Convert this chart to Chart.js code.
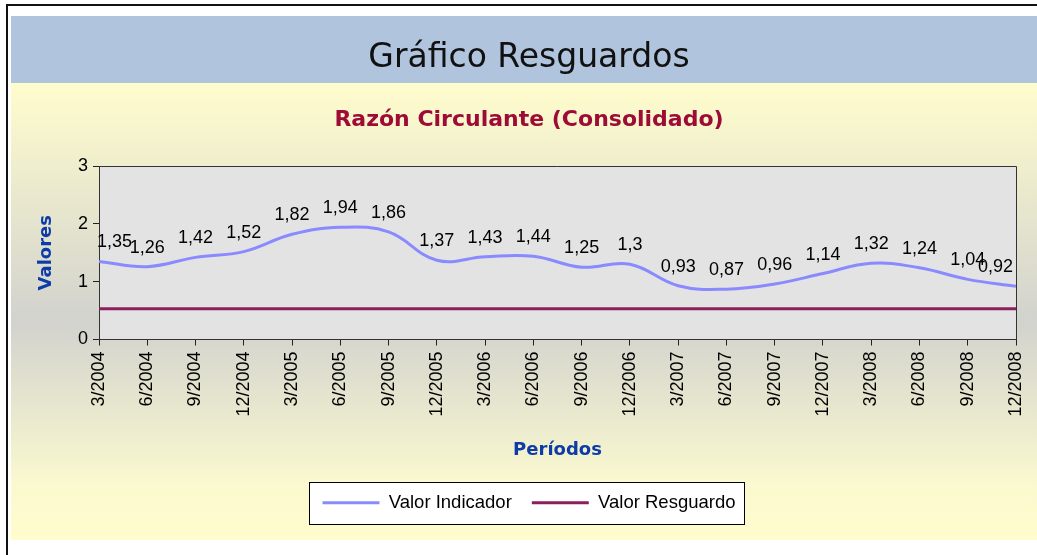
<!DOCTYPE html>
<html>
<head>
<meta charset="utf-8">
<script src="https://cdn.jsdelivr.net/npm/chart.js@4/dist/chart.umd.min.js"></script>
<style>
html,body{margin:0;padding:0;background:#fff;}
#wrap{width:1037px;height:555px;position:relative;}
</style>
</head>
<body>
<div id="wrap"><canvas id="c" width="1037" height="555"></canvas></div>
<script>
const categories = ['3/2004','6/2004','9/2004','12/2004','3/2005','6/2005','9/2005','12/2005','3/2006','6/2006','9/2006','12/2006','3/2007','6/2007','9/2007','12/2007','3/2008','6/2008','9/2008','12/2008'];
const valorIndicador = [1.35,1.26,1.42,1.52,1.82,1.94,1.86,1.37,1.43,1.44,1.25,1.3,0.93,0.87,0.96,1.14,1.32,1.24,1.04,0.92];
const valorResguardo = [0.53,0.53,0.53,0.53,0.53,0.53,0.53,0.53,0.53,0.53,0.53,0.53,0.53,0.53,0.53,0.53,0.53,0.53,0.53,0.53];
const yTicks = [0,1,2,3];
const seriesNames = ['Valor Indicador','Valor Resguardo'];
const chartTitle = 'Gráfico Resguardos';
const chartSubtitle = 'Razón Circulante (Consolidado)';
const yTitle = 'Valores';
const xTitle = 'Períodos';

const baseFont = 'Liberation Sans, Arial, sans-serif';

const bgPlugin = {
  id: 'bg',
  beforeDraw(chart) {
    const ctx = chart.ctx;
    const W = chart.width, H = chart.height;
    ctx.save();
    ctx.fillStyle = '#ffffff';
    ctx.fillRect(0, 0, W, H);
    // outer black frame
    ctx.fillStyle = '#111';
    ctx.fillRect(6, 4, W - 6, 2);
    ctx.fillRect(6, 4, 2, H - 4);
    // yellow/gray gradient panel
    const g = ctx.createLinearGradient(0, 83, 0, 540);
    g.addColorStop(0, '#FFFDCC');
    g.addColorStop(0.52, '#D2D2CE');
    g.addColorStop(0.88, '#FAF9CF');
    g.addColorStop(1, '#FFFDCC');
    ctx.fillStyle = g;
    ctx.fillRect(11, 83, W - 11, 540 - 83);
    // header band
    ctx.fillStyle = '#B0C4DE';
    ctx.fillRect(11, 16, W - 11, 67);
    // plot background
    const a = chart.chartArea;
    ctx.fillStyle = '#E3E3E3';
    ctx.fillRect(a.left, a.top, a.right - a.left, a.bottom - a.top);
    // legend box
    const lg = chart.legend;
    if (lg && lg.legendHitBoxes && lg.legendHitBoxes.length) {
      const hb = lg.legendHitBoxes;
      const l = hb[0].left - 13;
      const last = hb[hb.length - 1];
      const r = last.left + last.width + 9;
      const cy = hb[0].top + hb[0].height / 2;
      ctx.fillStyle = '#ffffff';
      ctx.fillRect(l, cy - 21, r - l, 42);
      ctx.strokeStyle = '#000';
      ctx.lineWidth = 1;
      ctx.strokeRect(Math.round(l) + 0.5, Math.round(cy - 21) + 0.5, Math.round(r - l), 42);
    }
    ctx.restore();
  },
  afterDraw(chart) {
    const ctx = chart.ctx;
    const a = chart.chartArea;
    ctx.save();
    ctx.strokeStyle = '#333';
    ctx.lineWidth = 1;
    ctx.beginPath();
    ctx.moveTo(a.left, Math.round(a.top) + 0.5);
    ctx.lineTo(Math.round(a.right) + 0.5, Math.round(a.top) + 0.5);
    ctx.lineTo(Math.round(a.right) + 0.5, a.bottom);
    ctx.stroke();
    ctx.restore();
  }
};

const labelPlugin = {
  id: 'dlabels',
  afterDatasetsDraw(chart) {
    const ctx = chart.ctx;
    const a = chart.chartArea;
    const meta = chart.getDatasetMeta(0);
    const data = chart.data.datasets[0].data;
    ctx.save();
    ctx.font = '18px ' + baseFont;
    ctx.fillStyle = '#000';
    ctx.textAlign = 'center';
    ctx.textBaseline = 'middle';
    meta.data.forEach((el, i) => {
      const txt = String(data[i]).replace('.', ',');
      const w = ctx.measureText(txt).width;
      let x = el.x;
      if (x - w / 2 < a.left - 2) x = a.left - 2 + w / 2;
      if (x + w / 2 > a.right - 3) x = a.right - 3 - w / 2;
      ctx.fillText(txt, x, el.y - 19);
    });
    ctx.restore();
  }
};

new Chart(document.getElementById('c'), {
  type: 'line',
  data: {
    labels: categories,
    datasets: [
      {
        label: seriesNames[0],
        data: valorIndicador,
        borderColor: '#8A8AFF',
        backgroundColor: '#8A8AFF',
        borderWidth: 3,
        pointRadius: 0,
        tension: 0.4,
        fill: false
      },
      {
        label: seriesNames[1],
        data: valorResguardo,
        borderColor: '#8B1F5E',
        backgroundColor: '#8B1F5E',
        borderWidth: 3,
        pointRadius: 0,
        tension: 0,
        fill: false
      }
    ]
  },
  options: {
    responsive: false,
    animation: false,
    devicePixelRatio: 1,
    layout: { padding: { top: 16, left: 42, right: 21, bottom: 33 } },
    plugins: {
      title: {
        display: true,
        text: chartTitle,
        color: '#111',
        font: { family: 'DejaVu Sans', size: 33, weight: 'normal', lineHeight: 1.2 },
        padding: { top: 22.2, bottom: 10 }
      },
      subtitle: {
        display: true,
        text: chartSubtitle,
        color: '#9E0B36',
        font: { family: 'DejaVu Sans', size: 22, weight: 'bold', lineHeight: 1.2 },
        padding: { top: 19, bottom: 32.8 }
      },
      legend: {
        display: true,
        position: 'bottom',
        labels: {
          usePointStyle: true,
          pointStyle: 'line',
          pointStyleWidth: 57,
          padding: 20,
          color: '#000',
          font: { family: baseFont, size: 18.5 }
        }
      },
      tooltip: { enabled: false }
    },
    scales: {
      x: {
        type: 'category',
        offset: false,
        afterFit(scale) { scale.height = 134; scale.paddingRight = 0; scale.paddingLeft = 0; },
        grid: { display: true, drawOnChartArea: false, drawTicks: true, tickLength: 6, color: '#222', offset: false },
        border: { display: true, color: '#333', width: 1 },
        ticks: {
          autoSkip: false,
          minRotation: 90,
          maxRotation: 90,
          padding: 6,
          color: '#000',
          font: { family: baseFont, size: 18 }
        },
        title: {
          display: true,
          text: xTitle,
          color: '#0D3CA8',
          font: { family: 'DejaVu Sans', size: 18, weight: 'bold', lineHeight: 1.2 },
          padding: { top: 0, bottom: 12.2 }
        }
      },
      y: {
        min: 0,
        max: 3,
        afterFit(scale) { scale.width = 57; },
        afterBuildTicks(scale) { scale.ticks = yTicks.map(v => ({ value: v })); },
        grid: { display: true, drawOnChartArea: false, drawTicks: true, tickLength: 6, color: '#222' },
        border: { display: true, color: '#333', width: 1 },
        ticks: {
          padding: 5,
          color: '#000',
          font: { family: baseFont, size: 18 }
        },
        title: {
          display: true,
          text: yTitle,
          color: '#0D3CA8',
          font: { family: 'DejaVu Sans', size: 18, weight: 'bold', lineHeight: 1 },
          padding: { top: -5, bottom: 0 }
        }
      }
    }
  },
  plugins: [bgPlugin, labelPlugin]
});
</script>
</body>
</html>
